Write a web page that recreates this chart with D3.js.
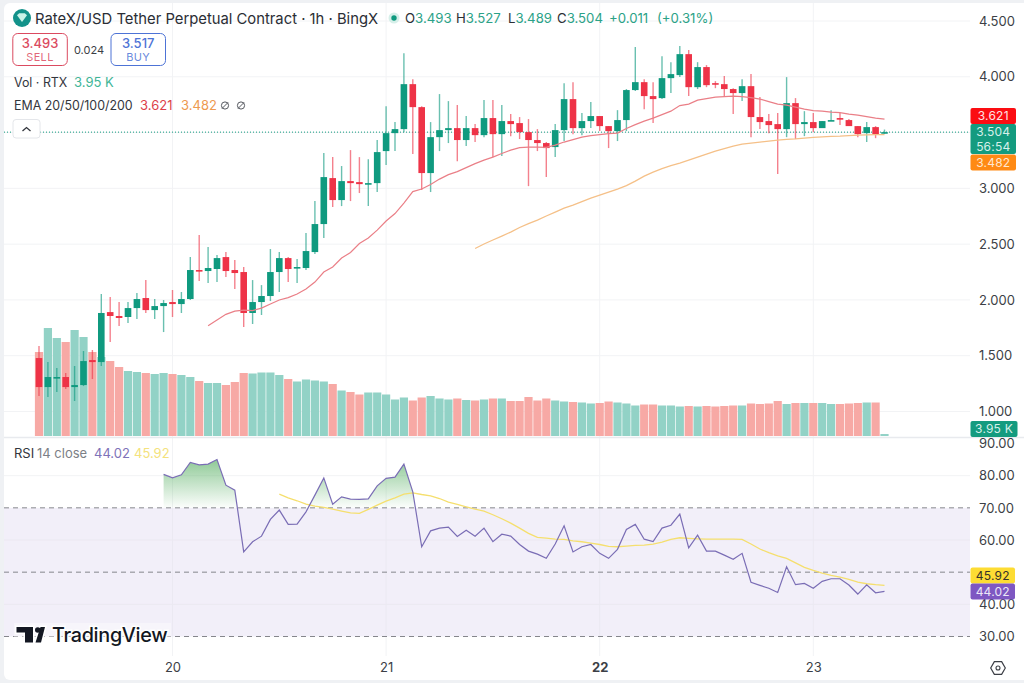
<!DOCTYPE html>
<html>
<head>
<meta charset="utf-8">
<script src="https://cdn.jsdelivr.net/npm/d3@7"></script>
<style>
  html, body { margin: 0; padding: 0; background: #eff1f4; }
  svg { display: block; }
  text { font-family: Inter, "Noto Sans", sans-serif; }
</style>
</head>
<body>
<svg id="chart" width="1024" height="683"></svg>
<script>
// Hourly OHLC for RTX/USDT perpetual
const opens = [
  1.479,1.219,1.300,1.309,1.219,1.237,1.461,1.443,1.891,1.856,
  1.847,1.927,2.017,1.909,1.945,1.981,1.963,2.008,2.268,2.259,
  2.277,2.384,2.268,2.250,1.883,1.981,2.035,2.250,2.375,2.286,
  2.286,2.429,2.680,3.092,2.895,3.065,3.056,3.038,3.047,3.334,
  3.495,3.531,3.934,3.728,3.137,3.459,3.522,3.540,3.433,3.540,
  3.477,3.630,3.486,3.603,3.585,3.504,3.433,3.406,3.370,3.522,
  3.800,3.540,3.603,3.648,3.558,3.513,3.612,3.881,3.952,3.827,
  3.809,3.988,4.015,4.203,3.907,4.087,3.943,3.934,3.890,3.854,
  3.916,3.639,3.603,3.576,3.531,3.764,3.576,3.594,3.540,3.603,
  3.630,3.612,3.558,3.495,3.549,3.493];
const highs = [
  1.587,1.443,1.390,1.345,1.408,1.542,1.551,2.053,2.026,1.981,
  1.981,2.062,2.178,2.008,1.999,2.089,2.071,2.384,2.581,2.474,
  2.402,2.429,2.357,2.295,2.178,2.133,2.456,2.429,2.384,2.366,
  2.599,2.886,3.316,3.280,3.200,3.343,3.280,3.262,3.433,3.737,
  3.594,4.212,3.979,3.737,3.594,3.845,3.782,3.746,3.648,3.576,
  3.791,3.791,3.746,3.666,3.639,3.621,3.531,3.415,3.576,3.943,
  3.952,3.675,3.773,3.648,3.558,3.701,3.890,4.266,3.979,3.952,
  4.185,4.131,4.275,4.239,4.131,4.105,3.961,4.006,3.898,3.979,
  4.024,3.818,3.666,3.675,3.997,3.809,3.692,3.675,3.603,3.701,
  3.675,3.621,3.558,3.594,3.558,3.527];
const lows = [
  1.139,1.130,1.175,1.202,1.094,1.228,1.291,1.408,1.623,1.766,
  1.793,1.829,1.883,1.829,1.712,1.847,1.883,1.999,2.169,2.151,
  2.160,2.205,2.098,1.757,1.784,1.865,1.990,2.071,2.160,2.151,
  2.268,2.411,2.555,2.832,2.841,2.886,2.958,2.841,2.967,3.209,
  3.334,3.504,3.307,2.985,2.967,3.334,3.406,3.244,3.379,3.415,
  3.459,3.280,3.289,3.468,3.442,3.020,3.334,3.101,3.280,3.424,
  3.486,3.477,3.540,3.513,3.361,3.424,3.513,3.872,3.710,3.585,
  3.800,3.854,3.997,3.827,3.890,3.907,3.898,3.827,3.666,3.782,
  3.459,3.531,3.495,3.128,3.459,3.442,3.468,3.504,3.540,3.603,
  3.567,3.558,3.459,3.415,3.450,3.489];
const closes = [
  1.219,1.309,1.309,1.219,1.237,1.452,1.443,1.883,1.856,1.838,
  1.927,2.008,1.909,1.945,1.972,1.963,2.008,2.268,2.259,2.286,
  2.375,2.259,2.241,1.883,1.981,2.035,2.250,2.375,2.277,2.295,
  2.438,2.680,3.101,2.895,3.065,3.047,3.038,3.047,3.325,3.495,
  3.531,3.934,3.728,3.137,3.459,3.522,3.540,3.433,3.540,3.477,
  3.630,3.486,3.603,3.576,3.504,3.433,3.406,3.361,3.522,3.800,
  3.540,3.603,3.648,3.558,3.513,3.612,3.881,3.952,3.827,3.800,
  3.988,4.024,4.203,3.907,4.087,3.925,3.934,3.890,3.854,3.916,
  3.639,3.594,3.567,3.531,3.764,3.576,3.594,3.540,3.603,3.612,
  3.621,3.558,3.486,3.549,3.486,3.504];

// Volume per candle, in thousands of RTX
const volumes = [
  168,216,196,188,212,198,168,158,150,138,
  130,128,126,124,126,124,122,118,110,106,
  106,102,108,126,125,127,127,122,114,109,
  113,111,109,104,91,88,83,87,87,83,
  73,77,71,77,80,75,73,75,72,71,
  73,75,75,70,70,78,71,75,71,69,
  68,67,65,66,69,67,65,61,63,63,
  61,61,59,60,59,60,59,60,61,61,
  65,64,65,70,64,66,66,66,66,64,
  64,65,66,67,67,3.95];

// Moving averages; each series begins part-way through the candles
const ema20Start = 19;
const ema20 = [
  1.769,1.820,1.871,1.900,1.909,1.905,1.927,1.963,1.999,2.021,2.053,
  2.098,2.160,2.250,2.295,2.375,2.425,2.505,2.555,2.626,2.707,
  2.774,2.868,2.971,2.994,3.034,3.083,3.123,3.150,3.186,3.222,
  3.253,3.280,3.312,3.343,3.365,3.370,3.370,3.367,3.388,3.415,
  3.437,3.459,3.473,3.482,3.491,3.495,3.536,3.571,3.603,3.630,
  3.661,3.692,3.742,3.755,3.791,3.804,3.818,3.822,3.827,3.822,
  3.813,3.800,3.778,3.755,3.746,3.728,3.710,3.697,3.692,3.683,
  3.679,3.666,3.657,3.643,3.630,3.621];
const ema50Start = 49;
const ema50 = [
  2.461,2.501,2.537,2.572,2.608,2.649,2.684,2.716,2.752,2.787,2.823,
  2.850,2.882,2.913,2.940,2.967,2.994,3.025,3.065,3.110,3.146,
  3.177,3.204,3.227,3.253,3.280,3.307,3.334,3.356,3.379,3.397,
  3.406,3.415,3.424,3.433,3.439,3.443,3.450,3.457,3.461,3.466,
  3.468,3.473,3.477,3.480,3.482,3.482];

// RSI(14) and its smoothing line
const rsiStart = 14;
const rsi = [
  80.4,79.3,80.25,84.1,83.35,83.6,85.0,77.05,75.5,56.33,59.44,61.2,66.4,69.3,64.85,64.95,
  68.75,73.95,79.3,71.15,73.4,72.7,72.6,72.8,76.85,79.15,79.55,83.6,74.97,57.9,62.85,
  63.7,64.0,61.1,63.05,61.2,63.7,59.5,61.8,61.2,58.6,56.55,55.6,54.3,58.75,64.4,
  56.3,57.9,58.6,55.85,54.3,57.1,63.3,64.85,60.25,59.5,63.7,64.6,68.05,57.55,61.5,
  56.55,56.55,55.3,54.0,55.85,46.85,45.9,45.0,43.7,51.7,46.1,46.5,45.0,47.15,47.95,
  47.95,46.0,43.2,46.1,43.6,44.02];
const rsiMaStart = 27;
const rsiMa = [
  74.25,73.1,72.2,71.15,70.55,70.15,69.6,69.0,68.45,68.25,69.5,70.85,72.1,73.1,74.25,
  74.65,74.15,73.75,72.9,71.75,71.05,70.3,69.6,69.0,67.85,66.6,65.25,63.7,62.05,60.8,
  60.6,60.25,60.2,59.75,59.45,59.05,58.6,58.0,57.9,58.1,58.3,58.4,58.75,59.35,60.2,
  60.7,60.5,60.35,60.25,60.25,60.25,60.25,60.2,58.75,57.2,56.05,55.1,54.3,52.9,51.5,
  50.55,49.7,49.0,48.45,47.75,46.9,46.4,46.1,45.92];

// Axis ticks; the 3.500 and 50.00 labels sit under the live value tags
const priceGrid = [1, 1.5, 2, 2.5, 3, 3.5, 4, 4.5];
const priceLabels = [1, 1.5, 2, 2.5, 3, 4, 4.5];
const rsiLabels = [30, 40, 60, 70, 80, 90];
const rsiDashed = [30, 50, 70];
const dayTicks = [15, 39, 63, 87];
const dayLabels = ["20", "21", "22", "23"];

const GREEN = "#0f9a7f", RED = "#ee3347";
const VOL_GREEN = "#92d2c6", VOL_RED = "#f7a9a5";

const svg = d3.select("#chart");
const defs = svg.append("defs");

const plotLeft = 4, plotRight = 970, cardRight = 1024;

const x = d3.scaleLinear().domain([0, 95]).range([39, 884.5]);
const yPrice = d3.scaleLinear().domain([1, 4.5]).range([411.5, 21]);
const yVol = d3.scaleLinear().domain([0, 200]).range([436, 336]);
const yRsi = d3.scaleLinear().domain([30, 90]).range([636.5, 443.5]);

// Card background
svg.append("rect").attr("x", 4).attr("y", 3).attr("width", 1030).attr("height", 677)
  .attr("rx", 6).attr("fill", "#fff");

// Grid
const grid = svg.append("g").attr("stroke", "#f2f3f5").attr("stroke-width", 1);
grid.selectAll(".gx").data(dayTicks).join("line")
  .attr("x1", d => x(d)).attr("x2", d => x(d)).attr("y1", 3).attr("y2", 656);
grid.selectAll(".gy").data(priceGrid).join("line")
  .attr("x1", plotLeft).attr("x2", plotRight)
  .attr("y1", d => yPrice(d)).attr("y2", d => yPrice(d));

// Pane divider
svg.append("line").attr("x1", plotLeft).attr("x2", cardRight).attr("y1", 437.5).attr("y2", 437.5)
  .attr("stroke", "#e8eaee").attr("stroke-width", 1.5);

// RSI band, levels and grid
svg.append("rect").attr("x", plotLeft).attr("width", plotRight - plotLeft)
  .attr("y", yRsi(70)).attr("height", yRsi(30) - yRsi(70)).attr("fill", "#f2eff9");
svg.append("g").attr("stroke", "#ebe8f1").selectAll("line").data([40, 60]).join("line")
  .attr("x1", plotLeft).attr("x2", plotRight)
  .attr("y1", d => yRsi(d)).attr("y2", d => yRsi(d));
svg.append("line").attr("x1", plotLeft).attr("x2", plotRight)
  .attr("y1", yRsi(80)).attr("y2", yRsi(80)).attr("stroke", "#f2f3f5");
svg.append("g").attr("stroke", "#ebe9f2").selectAll("line").data(dayTicks).join("line")
  .attr("x1", d => x(d)).attr("x2", d => x(d)).attr("y1", yRsi(70)).attr("y2", yRsi(30));
svg.append("g").selectAll("line").data(rsiDashed).join("line")
  .attr("x1", plotLeft).attr("x2", plotRight)
  .attr("y1", d => yRsi(d)).attr("y2", d => yRsi(d))
  .attr("stroke", "#85868c").attr("stroke-width", 1).attr("stroke-dasharray", "5 4");

// Volume bars
const candles = d3.range(opens.length).map(i => ({
  i, o: opens[i], h: highs[i], l: lows[i], c: closes[i], v: volumes[i]
}));
const up = d => d.c >= d.o;

svg.append("g").selectAll("rect").data(candles).join("rect")
  .attr("x", d => x(d.i) - 4.1).attr("width", 8.2)
  .attr("y", d => yVol(d.v)).attr("height", d => yVol(0) - yVol(d.v))
  .attr("fill", d => up(d) ? VOL_GREEN : VOL_RED);

// Current price line
svg.append("line").attr("x1", plotLeft).attr("x2", plotRight)
  .attr("y1", yPrice(closes[95])).attr("y2", yPrice(closes[95]))
  .attr("stroke", GREEN).attr("stroke-width", 1).attr("stroke-dasharray", "1 2");

// Candles
const candleG = svg.append("g");
candleG.selectAll("line").data(candles).join("line")
  .attr("x1", d => x(d.i)).attr("x2", d => x(d.i))
  .attr("y1", d => yPrice(d.h)).attr("y2", d => yPrice(d.l))
  .attr("stroke", d => up(d) ? GREEN : RED)
  .attr("stroke-width", 1.4).attr("stroke-opacity", 0.62);
candleG.selectAll("rect").data(candles).join("rect")
  .attr("x", d => x(d.i) - 3.3).attr("width", 6.6)
  .attr("y", d => yPrice(Math.max(d.o, d.c)))
  .attr("height", d => Math.max(1.6, Math.abs(yPrice(d.o) - yPrice(d.c))))
  .attr("fill", d => up(d) ? GREEN : RED);

// EMA lines
const lineFrom = (start, scale) => d3.line().x((d, i) => x(start + i)).y(d => scale(d));
svg.append("path").attr("d", lineFrom(ema20Start, yPrice)(ema20))
  .attr("fill", "none").attr("stroke", "#ea7f87").attr("stroke-width", 1.2);
svg.append("path").attr("d", lineFrom(ema50Start, yPrice)(ema50))
  .attr("fill", "none").attr("stroke", "#f5c088").attr("stroke-width", 1.3);

// RSI overbought fill, clipped to the zone above the 70 level
const grad = defs.append("linearGradient").attr("id", "obFill")
  .attr("gradientUnits", "userSpaceOnUse")
  .attr("x1", 0).attr("x2", 0).attr("y1", yRsi(85)).attr("y2", yRsi(70));
grad.append("stop").attr("offset", 0).attr("stop-color", "#5fb36a").attr("stop-opacity", 0.7);
grad.append("stop").attr("offset", 1).attr("stop-color", "#5fb36a").attr("stop-opacity", 0.02);
defs.append("clipPath").attr("id", "obClip").append("rect")
  .attr("x", plotLeft).attr("width", plotRight - plotLeft)
  .attr("y", yRsi(90)).attr("height", yRsi(70) - yRsi(90));
svg.append("path").attr("clip-path", "url(#obClip)").attr("fill", "url(#obFill)")
  .attr("d", d3.area().x((d, i) => x(rsiStart + i)).y0(yRsi(70)).y1(d => yRsi(d))(rsi));

// RSI lines
svg.append("path").attr("d", lineFrom(rsiMaStart, yRsi)(rsiMa))
  .attr("fill", "none").attr("stroke", "#f5df6e").attr("stroke-width", 1.3);
svg.append("path").attr("d", lineFrom(rsiStart, yRsi)(rsi))
  .attr("fill", "none").attr("stroke", "#7a6db5").attr("stroke-width", 1.2);

// Axes
const styleAxis = g => {
  g.select(".domain").remove();
  g.selectAll(".tick line").remove();
  g.selectAll(".tick text").attr("x", 0).attr("fill", "#3c3f46")
    .style("font-size", "13px").style("font-family", "Inter, sans-serif");
};
svg.append("g").attr("transform", "translate(979,0)")
  .call(d3.axisRight(yPrice).tickValues(priceLabels).tickFormat(d3.format(".3f")))
  .call(styleAxis);
svg.append("g").attr("transform", "translate(979,0)")
  .call(d3.axisRight(yRsi).tickValues(rsiLabels).tickFormat(d3.format(".2f")))
  .call(styleAxis);
const timeAxis = d3.axisBottom(x).tickValues(dayTicks).tickFormat((d, i) => dayLabels[i]);
svg.append("g").attr("transform", "translate(0,655)").call(timeAxis).call(g => {
  g.select(".domain").remove();
  g.selectAll(".tick line").remove();
  g.selectAll(".tick text").attr("y", 8).attr("fill", "#3c3f46")
    .style("font-size", "13px").style("font-family", "Inter, sans-serif")
    .style("font-weight", d => d === 63 ? 700 : 400);
});

// Value tags on the axis
const tag = (yTop, h, w, fill, lines, ink) => {
  svg.append("rect").attr("x", 970.5).attr("y", yTop).attr("width", w).attr("height", h)
    .attr("rx", 2).attr("fill", fill);
  lines.forEach((s, k) => {
    svg.append("text").attr("x", 970.5 + w / 2).attr("text-anchor", "middle")
      .attr("y", yTop + 12.2 + k * 14.6).attr("font-size", 12).attr("letter-spacing", 0.2)
      .attr("fill", ink).text(s);
  });
};
tag(108, 16, 45.5, "#fb0d12", ["3.621"], "#ffe3e3");
tag(124, 30, 45.5, "#149b7f", ["3.504", "56:54"], "#d6f0ea");
tag(154.5, 16, 45.5, "#ff8a14", ["3.482"], "#ffe8d0");
tag(421, 16, 47, "#149b7f", ["3.95 K"], "#d6f0ea");
tag(567.5, 16, 44.5, "#fddc33", ["45.92"], "#36322a");
tag(583.5, 16, 44.5, "#7e57c2", ["44.02"], "#ece6f7");

// Header
const label = (tx, ty, s, size, fill, extra) => {
  const t = svg.append("text").attr("x", tx).attr("y", ty).attr("font-size", size).attr("fill", fill).text(s);
  if (extra) extra(t);
  return t;
};
svg.append("circle").attr("cx", 22).attr("cy", 18).attr("r", 9).attr("fill", "#13928a");
svg.append("path").attr("d", "M17 15.2 L19.2 13.2 H24.8 L27 15.2 L22 22 Z").attr("fill", "#c9f3e8");
label(35, 24, "RateX/USD Tether Perpetual Contract · 1h · BingX", 14.8, "#2b2e35");

svg.append("circle").attr("cx", 394).attr("cy", 18).attr("r", 5.5).attr("fill", "#d6efe9");
svg.append("circle").attr("cx", 394).attr("cy", 18).attr("r", 2.7).attr("fill", GREEN);
const ohlc = [
  [405, "O", "3.493"], [456, "H", "3.527"], [508, "L", "3.489"], [557, "C", "3.504"]
];
ohlc.forEach(([px, k, v]) => {
  const t = svg.append("text").attr("x", px).attr("y", 23).attr("font-size", 13.2);
  t.append("tspan").attr("fill", "#2b2e35").text(k);
  t.append("tspan").attr("fill", "#2ba287").text(v);
});
label(609, 23, "+0.011", 13.2, "#2ba287");
label(657, 23, "(+0.31%)", 13.2, "#2ba287");

// Sell and buy boxes
const tradeBox = (bx, col, value, word) => {
  svg.append("rect").attr("x", bx).attr("y", 33.5).attr("width", 54.5).attr("height", 32)
    .attr("rx", 5).attr("fill", "#fff").attr("stroke", col).attr("stroke-width", 1);
  label(bx + 27.2, 48, value, 13, col, t => t.attr("text-anchor", "middle").attr("font-weight", 500));
  label(bx + 27.2, 61, word, 11, col, t => t.attr("text-anchor", "middle").attr("fill-opacity", 0.85).attr("letter-spacing", 0.3));
};
tradeBox(12.8, "#db4a60", "3.493", "SELL");
tradeBox(111, "#4d73d6", "3.517", "BUY");
label(89, 54, "0.024", 11, "#3c3f46", t => t.attr("text-anchor", "middle"));

// Legends
label(14, 86.5, "Vol · RTX", 12.4, "#33363d");
label(74, 86.5, "3.95 K", 13, "#3fb597");
label(14, 110, "EMA 20/50/100/200", 12.4, "#33363d");
label(140, 110, "3.621", 13, "#dd3f4a");
label(181, 110, "3.482", 13, "#ee9a4f");
[225, 241].forEach(cx => {
  svg.append("circle").attr("cx", cx).attr("cy", 105.5).attr("r", 3.6)
    .attr("fill", "none").attr("stroke", "#55585f").attr("stroke-width", 1);
  svg.append("line").attr("x1", cx - 3).attr("x2", cx + 3).attr("y1", 108.5).attr("y2", 102.5)
    .attr("stroke", "#55585f").attr("stroke-width", 1);
});
svg.append("rect").attr("x", 13).attr("y", 119.5).attr("width", 27).attr("height", 18.5)
  .attr("rx", 3).attr("fill", "#fff").attr("stroke", "#e4e6ea");
svg.append("path").attr("d", "M22.5 131 L26.5 127.5 L30.5 131")
  .attr("fill", "none").attr("stroke", "#33363d").attr("stroke-width", 1.3);

label(14, 458, "RSI", 13, "#33363d");
label(37, 458, "14 close", 13, "#7c7f86");
label(94, 458, "44.02", 13, "#7e72b8");
label(134, 458, "45.92", 13, "#f4e27c");

// Watermark
const logo = svg.append("g");
logo.append("rect").attr("x", 14).attr("y", 623).attr("width", 157).attr("height", 24)
  .attr("fill", "#fff").attr("fill-opacity", 0.4);
logo.append("path").attr("fill", "#131722")
  .attr("stroke", "#fff").attr("stroke-width", 3).attr("paint-order", "stroke")
  .attr("d", "M16.5 627 H33 V642.5 H25 V632.6 H16.5 Z M35.5 642.5 L40.5 627 H45 L41 642.5 Z");
logo.append("circle").attr("cx", 37.8).attr("cy", 630).attr("r", 2.8).attr("fill", "#131722");
label(52, 642, "TradingView", 19.8, "#131722", t => t.attr("font-weight", 500).attr("letter-spacing", -0.3)
  .attr("stroke", "#fff").attr("stroke-width", 3).attr("paint-order", "stroke"));

// Settings icon
const hexR = 7.3;
const hex = d3.range(6).map(k => {
  const a = k * Math.PI / 3;
  return [998 + hexR * Math.cos(a), 668 + hexR * Math.sin(a)];
});
svg.append("path").attr("d", d3.line()(hex) + "Z").attr("fill", "none").attr("stroke", "#3c3f46").attr("stroke-width", 1.2);
svg.append("circle").attr("cx", 998).attr("cy", 668).attr("r", 2).attr("fill", "none").attr("stroke", "#3c3f46").attr("stroke-width", 1.1);
</script>
</body>
</html>
